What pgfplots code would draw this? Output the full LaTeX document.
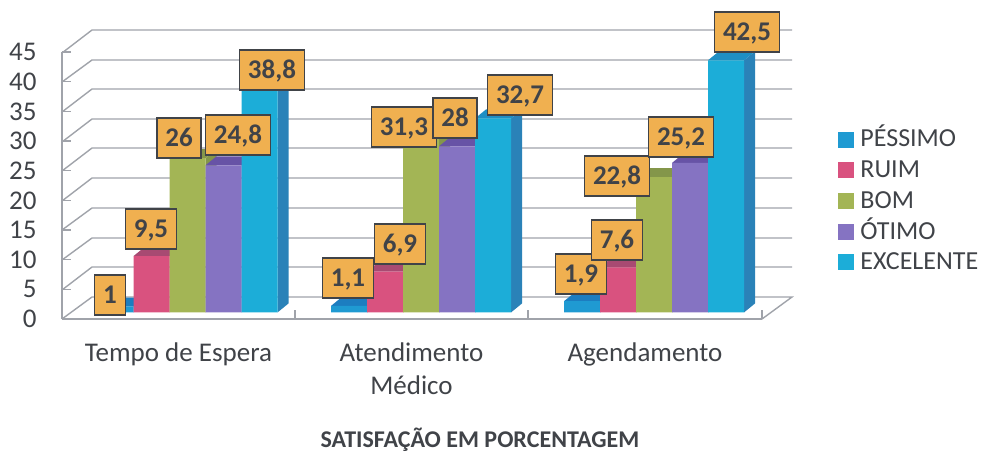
\documentclass[border=0pt]{standalone}
\usepackage{pgfplots}
\pgfplotsset{compat=1.18}
\usepackage{fontspec}
\setmainfont{Carlito}
\definecolor{cA}{HTML}{1F9AD2}\definecolor{cAt}{HTML}{1C7DC0}\definecolor{cAs}{HTML}{1C7DB8}
\definecolor{cB}{HTML}{D9527F}\definecolor{cBt}{HTML}{A84A72}\definecolor{cBs}{HTML}{A84A72}
\definecolor{cC}{HTML}{A3B555}\definecolor{cCt}{HTML}{84964A}\definecolor{cCs}{HTML}{84964A}
\definecolor{cD}{HTML}{8573C2}\definecolor{cDt}{HTML}{6753A6}\definecolor{cDs}{HTML}{6753A6}
\definecolor{cE}{HTML}{1CADD8}\definecolor{cEt}{HTML}{1F8FC4}\definecolor{cEs}{HTML}{2A82B8}
\definecolor{wallc}{HTML}{A0A3AA}\definecolor{ink}{HTML}{404348}\definecolor{box}{HTML}{F0B050}
% depth faces of one bar: left x, value, colour stem
\newcommand{\faces}[3]{%
  \pgfmathsetmacro{\xr}{#1+36}\pgfmathsetmacro{\xa}{#1+11}\pgfmathsetmacro{\xb}{#1+36+11}\pgfmathsetmacro{\yt}{#2+1.52}\pgfmathsetmacro{\yc}{1.52}%
  \edef\temp{\noexpand\addplot[fill=#3s,draw=none,forget plot] coordinates {(\xr,0) (\xb,\yc) (\xb,\yt) (\xr,#2)} -- cycle;
  \noexpand\addplot[fill=#3t,draw=none,forget plot] coordinates {(#1,#2) (\xa,\yt) (\xb,\yt) (\xr,#2)} -- cycle;}\temp}
\begin{document}
\begin{tikzpicture}
\useasboundingbox (0,0) rectangle (985pt,452pt);
% walls, in picture pixels
\begin{axis}[at={(0,0)},anchor=south west,scale only axis,width=985pt,height=452pt,xmin=0,xmax=985,ymin=0,ymax=452,y dir=reverse,axis lines=none,clip=false]
\addplot[wallc,line width=1.4pt] coordinates {(62,53) (92,30) (792,30)};
\addplot[wallc,line width=1.4pt] coordinates {(62,82) (92,60) (792,60)};
\addplot[wallc,line width=1.4pt] coordinates {(62,112) (92,89) (792,89)};
\addplot[wallc,line width=1.4pt] coordinates {(62,142) (92,119) (792,119)};
\addplot[wallc,line width=1.4pt] coordinates {(62,171) (92,148) (792,148)};
\addplot[wallc,line width=1.4pt] coordinates {(62,201) (92,178) (792,178)};
\addplot[wallc,line width=1.4pt] coordinates {(62,230) (92,208) (792,208)};
\addplot[wallc,line width=1.4pt] coordinates {(62,260) (92,238) (792,238)};
\addplot[wallc,line width=1.4pt] coordinates {(62,290) (92,267) (792,267)};
\addplot[wallc,line width=1.4pt] coordinates {(62,319) (92,297) (792,297) (762,319)};
\end{axis}
% value axis
\begin{axis}[at={(62pt,133pt)},anchor=south west,scale only axis,width=700pt,height=267pt,
  xmin=62,xmax=762,ymin=0,ymax=45,clip=false,
  axis x line*=bottom,axis y line*=left,
  axis line style={wallc,line width=1.4pt,-},
  tick style={wallc,line width=1.2pt},
  major tick length=9pt,
  ytick={0,5,...,45},
  xtick={62,295,528,762},
  x tick label as interval,
  xticklabels={Tempo de Espera,{Atendimento\\Médico},Agendamento},
  x tick label style={align=center,font=\fontsize{27}{33}\selectfont,text=ink,yshift=-20pt},
  y tick label style={font=\fontsize{27}{27}\selectfont,text=ink,xshift=-22pt},
  /pgf/number format/assume math mode=true,
  xlabel={\textbf{SATISFAÇÃO EM PORCENTAGEM}},
  x label style={at={(axis description cs:0.597,-0.453)},anchor=center,font=\fontsize{24}{24}\selectfont,text=ink},
]
\end{axis}
% bars
\begin{axis}[at={(62pt,133pt)},anchor=south west,scale only axis,width=700pt,height=267pt,
  xmin=62,xmax=762,ymin=-1.1,ymax=43.9,axis lines=none,clip=false,
  legend entries={PÉSSIMO,RUIM,BOM,ÓTIMO,EXCELENTE},
  legend cell align=left,
  legend image code/.code={\fill[#1] (0pt,-4.5pt) rectangle (15pt,10.5pt);\path[draw=none,fill=none] (0pt,0pt)--(22pt,0pt);},
  legend style={at={(axis description cs:1.1086,0.705)},anchor=north west,draw=none,fill=none,inner sep=0pt,
    font=\fontsize{26}{26}\selectfont,text=ink,row sep=8.2pt,
    nodes={inner sep=0pt,text height=16pt,text depth=6.5pt}},
]
\addlegendimage{cA}\addlegendimage{cB}\addlegendimage{cC}\addlegendimage{cD}\addlegendimage{cE}
\faces{97.5}{1}{cA}\faces{331}{1.1}{cA}\faces{564}{1.9}{cA}
\addplot[ybar,bar width=36pt,bar shift=-72pt,fill=cA,draw=none,forget plot] coordinates {(187.5,1) (421,1.1) (654,1.9)};
\faces{133.5}{9.5}{cB}\faces{367}{6.9}{cB}\faces{600}{7.6}{cB}
\addplot[ybar,bar width=36pt,bar shift=-36pt,fill=cB,draw=none,forget plot] coordinates {(187.5,9.5) (421,6.9) (654,7.6)};
\faces{169.5}{26}{cC}\faces{403}{31.3}{cC}\faces{636}{22.8}{cC}
\addplot[ybar,bar width=36pt,bar shift=0pt,fill=cC,draw=none,forget plot] coordinates {(187.5,26) (421,31.3) (654,22.8)};
\faces{205.5}{24.8}{cD}\faces{439}{28}{cD}\faces{672}{25.2}{cD}
\addplot[ybar,bar width=36pt,bar shift=36pt,fill=cD,draw=none,forget plot] coordinates {(187.5,24.8) (421,28) (654,25.2)};
\faces{241.5}{38.8}{cE}\faces{475}{32.7}{cE}\faces{708}{42.5}{cE}
\addplot[ybar,bar width=36pt,bar shift=72pt,fill=cE,draw=none,forget plot] coordinates {(187.5,38.8) (421,32.7) (654,42.5)};
\end{axis}
% value boxes, in picture pixels
\begin{axis}[at={(0,0)},anchor=south west,scale only axis,width=985pt,height=452pt,xmin=0,xmax=985,ymin=0,ymax=452,y dir=reverse,axis lines=none,clip=false]
\addplot[only marks,mark=none,nodes near coords,point meta=explicit symbolic,
  every node near coord/.append style={anchor=center,fill=box,draw=ink,line width=1.6pt,
    font=\fontsize{27}{27}\selectfont\bfseries,text=ink,inner xsep=8.5pt,inner ysep=0pt,
    minimum height=40pt,text height=17pt,text depth=0pt}]
table[meta=v]{
x y v
110 295 1
151 229 9,5
179 138 26
238 135 24,8
272 70 38,8
348 278 1,1
400 244 6,9
404 127 31,3
455 118 28
520 95 32,7
581 274 1,9
617 240 7,6
617 176 22,8
681 137 25,2
747 32 42,5
};
\end{axis}
\end{tikzpicture}
\end{document}
